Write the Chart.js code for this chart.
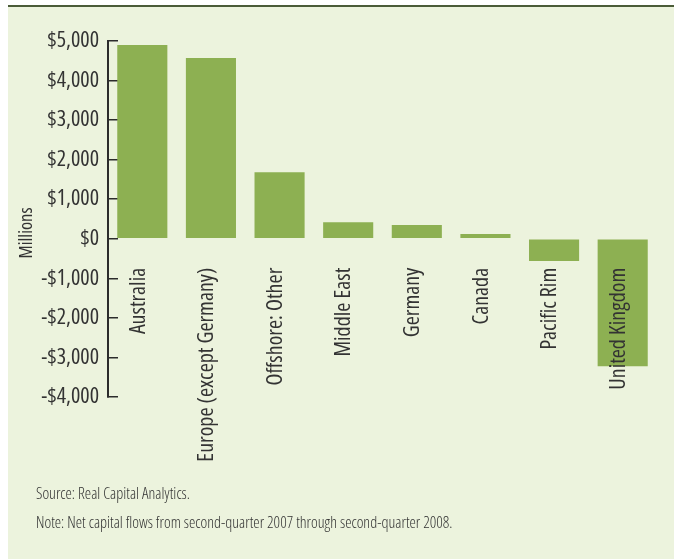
<!DOCTYPE html>
<html>
<head>
<meta charset="utf-8">
<script src="https://cdn.jsdelivr.net/npm/chart.js@4"></script>
<style>
  html, body { margin: 0; padding: 0; background: #fff; }
  #wrap { position: relative; width: 674px; height: 559px; overflow: hidden; }
  #panel { position: absolute; left: 8px; top: 5px; right: 0; bottom: 0;
           border-top: 2px solid #4b5c38; background: #ecf3dd; }
  #chart { position: absolute; left: 0; top: 0; }
  .note { position: absolute; left: 36px; font-family: "Open Sans", sans-serif; font-stretch: condensed;
          font-weight: 300; font-size: 16px; line-height: 20px; color: #333; white-space: nowrap; }
</style>
</head>
<body>
<div id="wrap">
  <div id="panel"></div>
  <canvas id="chart" width="674" height="559"></canvas>
  <div class="note" style="top:483px">Source: Real Capital Analytics.</div>
  <div class="note" style="top:512px">Note: Net capital flows from second-quarter 2007 through second-quarter 2008.</div>
</div>
<script>
const regions = ["Australia", "Europe (except Germany)", "Offshore: Other", "Middle East",
                 "Germany", "Canada", "Pacific Rim", "United Kingdom"];
const netFlows = [4900, 4570, 1680, 420, 350, 120, -560, -3220];
const yTicks = [-4000, -3000, -2000, -1000, 0, 1000, 2000, 3000, 4000, 5000];

const barColor = "#8db052";
const axisColor = "#2b2b2b";
const textColor = "#333";
// chart.js doesn't expose font-stretch, so slip "condensed" in with the weight
const condensed = size => ({ family: "'Open Sans', sans-serif", size, weight: "condensed" });

const money = v => (v < 0 ? "-$" : "$") + Math.abs(v).toLocaleString("en-US");

new Chart(document.getElementById("chart").getContext("2d"), {
  type: "bar",
  data: {
    labels: regions,
    datasets: [{
      data: netFlows,
      backgroundColor: barColor,
      barPercentage: 0.73,
      categoryPercentage: 1,
    }],
  },
  options: {
    responsive: false,
    animation: false,
    layout: { padding: { left: 0, top: 41, right: 17, bottom: 162 } },
    plugins: { legend: { display: false }, tooltip: { enabled: false } },
    scales: {
      x: {
        position: { y: 0 },
        grid: { display: false },
        border: { display: false },
        ticks: {
          z: 1,
          minRotation: 90, maxRotation: 90, autoSkip: false,
          padding: 21, labelOffset: -4,
          color: textColor, font: condensed(22),
        },
        afterFit: s => { s.height = 0; },
      },
      y: {
        min: yTicks[0],
        max: yTicks[yTicks.length - 1],
        afterBuildTicks: s => { s.ticks = yTicks.map(v => ({ value: v })); },
        ticks: {
          padding: 19,
          color: textColor, font: condensed(22),
          callback: v => money(v),
        },
        grid: { drawOnChartArea: false, tickLength: -10, color: axisColor, lineWidth: 1.5 },
        border: { color: axisColor, width: 2 },
        title: {
          display: true,
          text: "Millions\u2003\u2002", // trailing space nudges the word below the axis middle
          color: textColor,
          font: condensed(18.5), padding: { top: 16, bottom: 0 },
        },
        afterFit: s => { s.width = 108; },
      },
    },
  },
});
</script>
</body>
</html>
